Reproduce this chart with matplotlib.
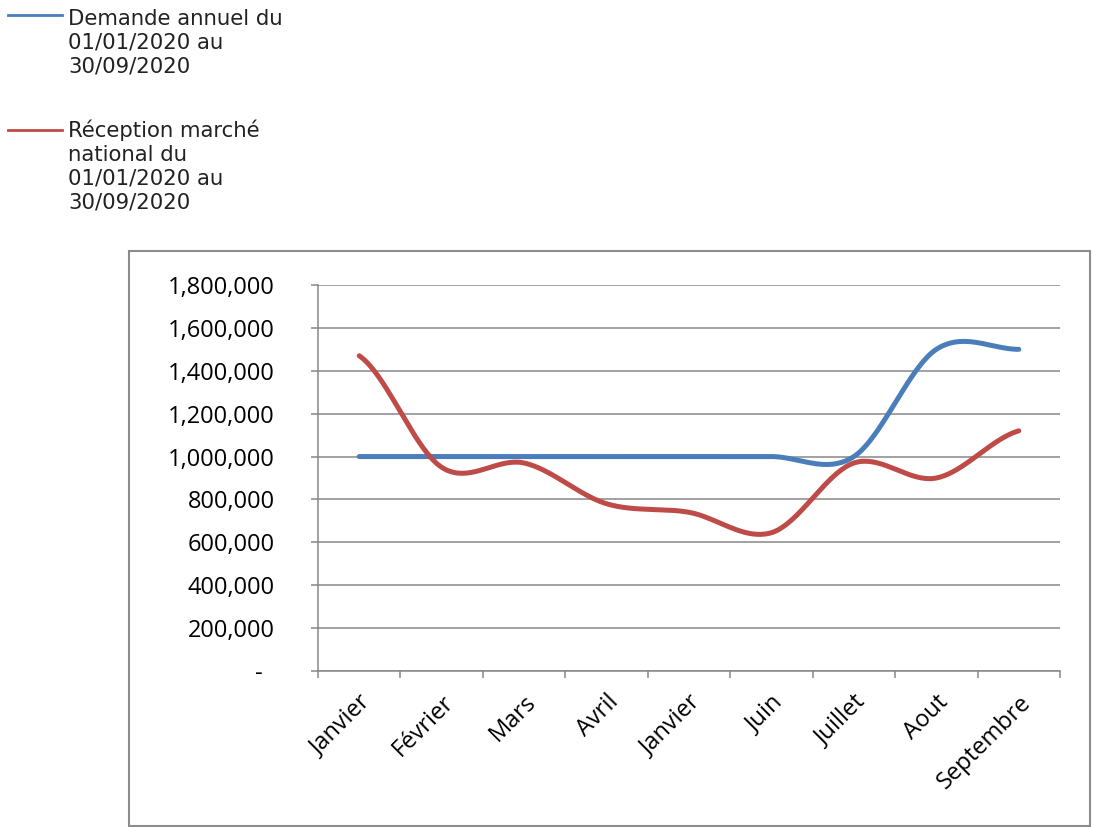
import numpy as np
import matplotlib
matplotlib.use('Agg')
import matplotlib.pyplot as plt
from matplotlib.lines import Line2D
from matplotlib.patches import Rectangle
from matplotlib.ticker import FixedLocator, FuncFormatter

months = ['Janvier', 'Février', 'Mars', 'Avril', 'Janvier', 'Juin',
          'Juillet', 'Aout', 'Septembre']
demande = [1000000, 1000000, 1000000, 1000000, 1000000, 1000000,
           1000000, 1500000, 1500000]
reception = [1470000, 950000, 970000, 780000, 740000, 645000,
             970000, 900000, 1120000]
labels = [['Demande annuel du', '01/01/2020 au', '30/09/2020'],
          ['Réception marché', 'national du', '01/01/2020 au', '30/09/2020']]
colors = ['#4a7ebb', '#be4b48']
yticks = [0, 200000, 400000, 600000, 800000, 1000000, 1200000, 1400000,
          1600000, 1800000]

W, H = 1093, 827
fig = plt.figure(figsize=(W / 100, H / 100), dpi=100)
grey = '#878787'

def px(x, y):
    return x / W, 1 - y / H

# chart area border
fig.add_artist(Rectangle(px(129, 826), 961 / W, 575 / H, transform=fig.transFigure,
                         fill=False, edgecolor='#8c8c8c', lw=1.5))

ax = fig.add_axes([318 / W, 1 - 671 / H, (1060 - 318) / W, (671 - 285) / H])

def smooth(vals, n=40):
    # excel style smoothed line: bezier segments with catmull-rom tangents
    v = np.asarray(vals, float)
    xs, ys = [], []
    for i in range(len(v) - 1):
        p0 = v[i - 1] if i > 0 else v[i]
        p3 = v[i + 2] if i + 2 < len(v) else v[i + 1]
        c1 = v[i] + (v[i + 1] - p0) / 6
        c2 = v[i + 1] - (p3 - v[i]) / 6
        t = np.linspace(0, 1, n)
        b = (1 - t)**3 * v[i] + 3 * (1 - t)**2 * t * c1 + 3 * (1 - t) * t**2 * c2 + t**3 * v[i + 1]
        xs.append(i + t)
        ys.append(b)
    return np.concatenate(xs), np.concatenate(ys)

for vals, c in zip([demande, reception], colors):
    sx, sy = smooth(vals)
    ax.plot(sx, sy, color=c, lw=3.6, solid_capstyle='round', solid_joinstyle='round', zorder=3)

ax.set_xlim(-0.5, len(months) - 0.5)
ax.set_ylim(0, 1800000)
ax.set_yticks(yticks)
ax.yaxis.set_major_formatter(FuncFormatter(lambda v, p: '{:,.0f}'.format(v) if v else '-  '))
ax.grid(axis='y', color=grey, lw=1.1)
ax.set_axisbelow(True)

ax.xaxis.set_major_locator(FixedLocator(np.arange(-0.5, len(months), 1.0)))
ax.xaxis.set_major_formatter(FuncFormatter(lambda v, p: ''))
ax.xaxis.set_minor_locator(FixedLocator(np.arange(len(months))))
ax.set_xticklabels(months, minor=True, rotation=45, ha='right', rotation_mode='anchor',
                   fontsize=17, family='Open Sans')
ax.tick_params(axis='x', which='minor', length=0, pad=14)
ax.tick_params(axis='x', which='major', length=5, width=1.1, color=grey, direction='out')
ax.tick_params(axis='y', length=5, width=1.1, color=grey, direction='out', pad=26,
               labelsize=17)
for t in ax.get_yticklabels():
    t.set_family('Open Sans')

for s in ['top', 'right']:
    ax.spines[s].set_visible(False)
for s in ['left', 'bottom']:
    ax.spines[s].set_color(grey)
    ax.spines[s].set_linewidth(1.1)

# legend, drawn at top left outside the plot
line_y = [15, 130]
first_base = [25, 137]
for lab, c, ly, fb in zip(labels, colors, line_y, first_base):
    x0, y0 = px(8, ly)
    x1, _ = px(62, ly)
    fig.add_artist(Line2D([x0, x1], [y0, y0], color=c, lw=2.0, transform=fig.transFigure))
    for k, s in enumerate(lab):
        tx, ty = px(68, fb + k * 23.8)
        fig.text(tx, ty, s, fontsize=15.3, color='#222222', family='DejaVu Sans',
                 va='baseline', ha='left')

fig.savefig('out.png', dpi=100)
